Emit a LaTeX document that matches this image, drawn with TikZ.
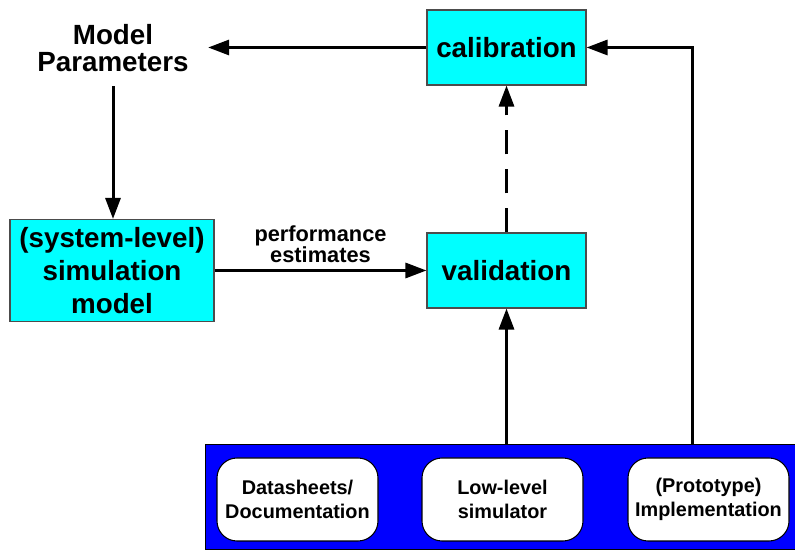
\documentclass[tikz,border=0pt]{standalone}
\usepackage{fontspec}
\setmainfont{Liberation Sans}
\usetikzlibrary{arrows.meta}
\definecolor{boxcyan}{RGB}{0,255,255}
\definecolor{srcblue}{RGB}{0,0,255}
\begin{document}
\begin{tikzpicture}[>={Triangle[length=0.42cm,width=0.3cm]},line width=0.06cm,
  cbox/.style={draw=black!70,line width=0.6pt,fill=boxcyan,minimum width=3.18cm,minimum height=1.5cm,inner sep=0pt,
    font=\bfseries\fontsize{15.8}{15.8}\selectfont,align=center},
  srcbox/.style={draw=black,line width=0.6pt,fill=white,rounded corners=0.4cm,minimum width=3.22cm,minimum height=1.66cm,
    inner sep=0pt,font=\bfseries\fontsize{11.3}{13.6}\selectfont,align=center}]
\useasboundingbox (0,0) rectangle (15.9,11);
\node[cbox] (calib) at (10.13,10.05) {calibration};
\node[cbox] (valid) at (10.13,5.59) {validation};
\node[cbox,minimum width=4.08cm,minimum height=2.04cm,font=\bfseries\fontsize{15.8}{18.7}\selectfont] (simmodel) at (2.24,5.59) {(system-level)\\simulation\\model};
\node[font=\bfseries\fontsize{15.8}{15.6}\selectfont,align=center,inner xsep=0.36cm,inner ysep=0.26cm] (params) at (2.26,10.04) {Model\\Parameters};
%sources
\node[draw=black,line width=0.6pt,fill=srcblue,minimum width=11.8cm,minimum height=2.1cm,anchor=south west] (srcs) at (4.1,0) {};
\node[srcbox] (datash) at (5.95,1.01) {Datasheets/\\Documentation};
\node[srcbox] (lowsim) at (10.05,1.01) {Low-level\\simulator};
\node[srcbox] (proto) at (14.17,1.01) {(Prototype)\\Implementation};
\coordinate (tapR) at (13.84,2.1);
%connectors
\draw[->] (calib.west) -- (calib.west -| params.east);
\draw[->] (params.south) -- (params.south |- simmodel.north);
\draw[->] (simmodel.east) -- (valid.west) node[midway,above,font=\bfseries\fontsize{12.4}{12}\selectfont,align=center] (perf) {performance\\estimates};
\draw[->,dash pattern=on 0.48cm off 0.3cm] (valid.north) -- (calib.south);
\draw[->] (valid.south |- srcs.north) -- (valid.south);
\draw[->] (tapR) |- (calib.east);
\end{tikzpicture}
\end{document}
